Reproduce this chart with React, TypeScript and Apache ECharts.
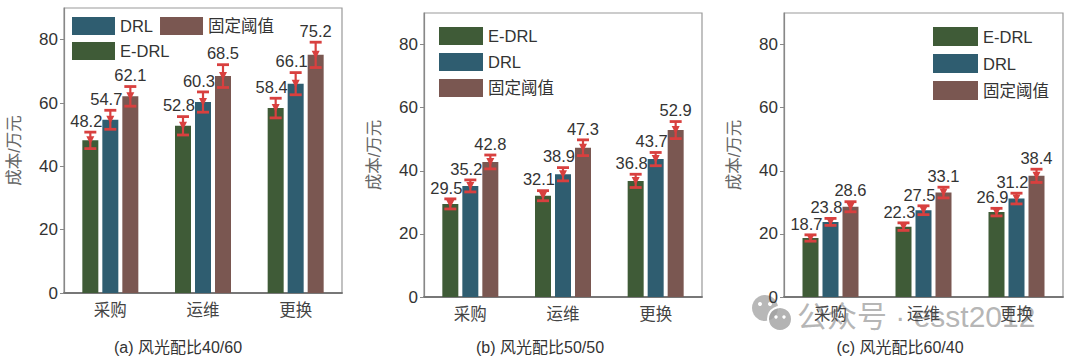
import React, { useEffect, useRef } from "react";
import * as echarts from "echarts";

const categories = ["采购", "运维", "更换"];
const seriesNames = ["E-DRL", "DRL", "固定阈值"];
const yTicks = [0, 20, 40, 60, 80];

// panel (a) 风光配比 40/60
const a_EDRL = [48.2, 52.8, 58.4];
const a_DRL = [54.7, 60.3, 66.1];
const a_Fixed = [62.1, 68.5, 75.2];
const a_errEDRL = [2.6, 2.9, 3.1];
const a_errDRL = [3.0, 3.2, 3.5];
const a_errFixed = [3.1, 3.6, 4.0];

// panel (b) 风光配比 50/50
const b_EDRL = [29.5, 32.1, 36.8];
const b_DRL = [35.2, 38.9, 43.7];
const b_Fixed = [42.8, 47.3, 52.9];
const b_errEDRL = [1.6, 1.6, 2.1];
const b_errDRL = [1.9, 2.1, 2.1];
const b_errFixed = [2.2, 2.5, 2.7];

// panel (c) 风光配比 60/40
const c_EDRL = [18.7, 22.3, 26.9];
const c_DRL = [23.8, 27.5, 31.2];
const c_Fixed = [28.6, 33.1, 38.4];
const c_errEDRL = [1.0, 1.2, 1.2];
const c_errDRL = [1.1, 1.4, 1.7];
const c_errFixed = [1.6, 1.7, 2.1];

const subtitles = ["(a) 风光配比40/60", "(b) 风光配比50/50", "(c) 风光配比60/40"];

const COLORS = ["#3f5b37", "#2f5d70", "#7a5751"];
const ERR = "#d8403f";
const FONT = '"Liberation Sans", Arial, "Noto Sans CJK SC", sans-serif';

const panels = [
  { vals: [a_EDRL, a_DRL, a_Fixed], errs: [a_errEDRL, a_errDRL, a_errFixed] },
  { vals: [b_EDRL, b_DRL, b_Fixed], errs: [b_errEDRL, b_errDRL, b_errFixed] },
  { vals: [c_EDRL, c_DRL, c_Fixed], errs: [c_errEDRL, c_errDRL, c_errFixed] },
];

const grids = [
  { left: 64, top: 8, width: 278, height: 285 },
  { left: 424, top: 13, width: 278, height: 284 },
  { left: 784, top: 13, width: 279, height: 284 },
];

const BAR_W = 16;
const BAR_STEP = 20;

export default function App() {
  const ref = useRef<HTMLDivElement>(null);
  useEffect(() => {
    document.body.style.margin = "0";
    if (!ref.current) return;
    const chart = echarts.init(ref.current, undefined, { renderer: "svg" });

    const series: any[] = [];
    panels.forEach((p, k) => {
      p.vals.forEach((arr, s) => {
        series.push({
          type: "bar",
          name: seriesNames[s],
          xAxisIndex: k,
          yAxisIndex: k,
          data: arr,
          barWidth: BAR_W,
          barGap: "25%",
          itemStyle: { color: COLORS[s] },
          z: 2,
        });
      });
      const errData: any[] = [];
      p.vals.forEach((arr, s) => {
        arr.forEach((v, i) => errData.push([i, v, p.errs[s][i], s]));
      });
      series.push({
        type: "custom",
        name: "err" + k,
        xAxisIndex: k,
        yAxisIndex: k,
        data: errData,
        encode: { x: 0, y: 1 },
        z: 5,
        renderItem: (params: any, api: any) => {
          const i = api.value(0);
          const v = api.value(1);
          const e = api.value(2);
          const s = api.value(3);
          const c = api.coord([i, v]);
          const hi = api.coord([i, v + e]);
          const lo = api.coord([i, v - e]);
          const x = c[0] + (s - 1) * BAR_STEP;
          const cap = 6;
          const ls = { stroke: ERR, lineWidth: 2.2 };
          const labelDx = s === 2 ? 0 : -4;
          return {
            type: "group",
            children: [
              { type: "line", shape: { x1: x, y1: hi[1], x2: x, y2: lo[1] }, style: ls },
              { type: "line", shape: { x1: x - cap, y1: hi[1], x2: x + cap, y2: hi[1] }, style: { stroke: ERR, lineWidth: 2.8 } },
              { type: "line", shape: { x1: x - cap, y1: lo[1], x2: x + cap, y2: lo[1] }, style: { stroke: ERR, lineWidth: 2.8 } },
              {
                type: "polygon",
                shape: { points: [[x - 4, c[1] - 4], [x + 4, c[1] - 4], [x, c[1] + 4]] },
                style: { fill: ERR },
              },
              {
                type: "text",
                style: {
                  text: v.toFixed(1),
                  x: x + labelDx,
                  y: hi[1] - 3,
                  align: "center",
                  verticalAlign: "bottom",
                  fontSize: 16.5,
                  fontFamily: FONT,
                  fill: "#333",
                },
              },
            ],
          };
        },
      });
    });

    const option: any = {
      animation: false,
      textStyle: { fontFamily: FONT },
      grid: grids.map((g) => ({ ...g, show: true, borderColor: "#999", borderWidth: 1.2, containLabel: false })),
      xAxis: grids.map((_, k) => ({
        type: "category",
        gridIndex: k,
        data: categories,
        axisLine: { lineStyle: { color: "#777", width: 1.8 } },
        axisTick: { show: false },
        axisLabel: { fontSize: 16.5, color: "#444", margin: 9, fontFamily: FONT },
      })),
      yAxis: grids.map((_, k) => ({
        type: "value",
        gridIndex: k,
        min: 0,
        max: 90,
        interval: 20,
        name: "成本/万元",
        nameLocation: "middle",
        nameGap: 42,
        nameTextStyle: { fontSize: 16.5, color: "#666", fontFamily: FONT },
        splitLine: { show: false },
        axisLine: { show: true, lineStyle: { color: "#888", width: 1.2 } },
        axisTick: { show: true, length: 4, lineStyle: { color: "#888" }, customValues: yTicks },
        axisLabel: { fontSize: 17, color: "#333", margin: 6, fontFamily: FONT, customValues: yTicks },
      })),
      legend: [
        {
          left: 72,
          top: 17,
          width: 215,
          orient: "horizontal",
          padding: 0,
          itemGap: 7,
          itemWidth: 43,
          itemHeight: 18,
          icon: "rect",
          data: ["DRL", "固定阈值", "E-DRL"],
          textStyle: { fontSize: 16.5, color: "#333", fontFamily: FONT },
        },
        {
          left: 439,
          top: 27,
          orient: "vertical",
          padding: 0,
          itemGap: 8,
          itemWidth: 44,
          itemHeight: 18,
          icon: "rect",
          data: seriesNames,
          textStyle: { fontSize: 16.5, color: "#333", fontFamily: FONT },
        },
        {
          left: 933,
          top: 27,
          orient: "vertical",
          padding: 0,
          itemGap: 8,
          itemWidth: 45,
          itemHeight: 19,
          icon: "rect",
          data: seriesNames,
          textStyle: { fontSize: 16.5, color: "#333", fontFamily: FONT },
        },
      ],
      graphic: [
        ...subtitles.map((t, k) => ({
          type: "text",
          x: [178, 540, 900][k],
          y: 347,
          style: {
            text: t,
            align: "center",
            verticalAlign: "middle",
            fontSize: 16,
            fontFamily: FONT,
            fill: "#333",
          },
        })),
        {
          type: "group",
          z: 100,
          children: [
            { type: "circle", shape: { cx: 765, cy: 308, r: 13 }, style: { fill: "rgba(160,160,160,0.75)" } },
            { type: "circle", shape: { cx: 780, cy: 319, r: 12 }, style: { fill: "rgba(160,160,160,0.8)", stroke: "#fff", lineWidth: 2 } },
            { type: "circle", shape: { cx: 760, cy: 304, r: 2 }, style: { fill: "#fff" } },
            { type: "circle", shape: { cx: 770, cy: 304, r: 2 }, style: { fill: "#fff" } },
            { type: "circle", shape: { cx: 776, cy: 317, r: 1.7 }, style: { fill: "#fff" } },
            { type: "circle", shape: { cx: 784, cy: 317, r: 1.7 }, style: { fill: "#fff" } },
            {
              type: "text",
              x: 797,
              y: 316,
              style: {
                text: "公众号 · esst2012",
                verticalAlign: "middle",
                fontSize: 30,
                fontFamily: FONT,
                fill: "rgba(150,150,150,0.7)",
              },
            },
          ],
        },
      ],
      series,
    };
    chart.setOption(option);
    return () => chart.dispose();
  }, []);
  return <div ref={ref} style={{ width: 1080, height: 360 }} />;
}
